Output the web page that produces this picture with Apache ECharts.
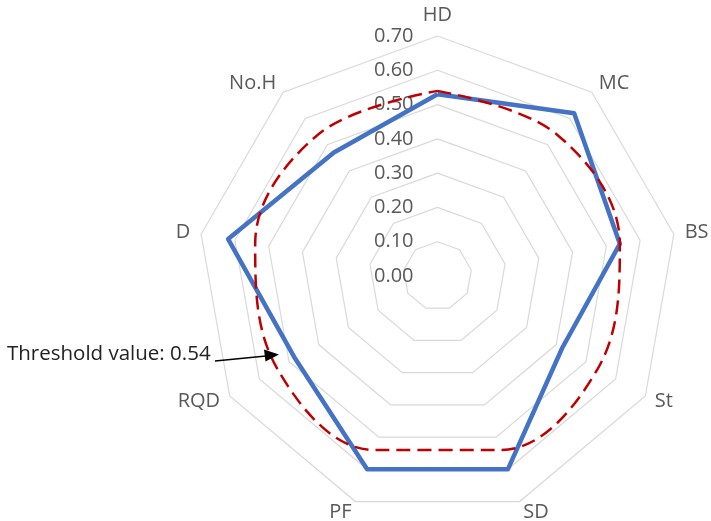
<!DOCTYPE html>
<html>
<head>
<meta charset="utf-8">
<script src="https://cdn.jsdelivr.net/npm/echarts@6/dist/echarts.min.js"></script>
<style>
html,body{margin:0;padding:0;background:#fff;}
#chart{width:711px;height:521px;}
</style>
</head>
<body>
<div id="chart"></div>
<script>
// ---- data ----
var categories = ['HD', 'MC', 'BS', 'St', 'SD', 'PF', 'RQD', 'D', 'No.H'];
var scoreValues = [0.53, 0.62, 0.54, 0.42, 0.60, 0.60, 0.48, 0.62, 0.47];
var thresholdValues = [0.54, 0.54, 0.54, 0.54, 0.54, 0.54, 0.54, 0.54, 0.54];
var tickLabels = ['0.00', '0.10', '0.20', '0.30', '0.40', '0.50', '0.60', '0.70'];
var axisMax = 0.7;

var N = categories.length;
var FONT = '"Open Sans", "DejaVu Sans", sans-serif';
var CX = 437.5, CY = 276, R = 240;

// ECharts radar lays indicators out counter-clockwise; reorder so the
// categories run clockwise from the top, as in the original.
var order = [0];
for (var k = N - 1; k >= 1; k--) order.push(k);
function reorder(arr) { return order.map(function (i) { return arr[i]; }); }

var chart = echarts.init(document.getElementById('chart'), null, {renderer: 'canvas'});

var thresholdData = thresholdValues.map(function (v, i) { return [v, i]; });
thresholdData.push([thresholdValues[0], N]);

var option = {
  animation: false,
  backgroundColor: '#ffffff',
  radar: {
    center: [CX, CY],
    radius: R,
    startAngle: 90,
    shape: 'polygon',
    splitNumber: tickLabels.length - 1,
    nameGap: 11,
    axisName: { color: '#595959', fontSize: 20, fontFamily: FONT },
    indicator: reorder(categories).map(function (c) { return { name: c, min: 0, max: axisMax }; }),
    axisLine: { show: false },
    axisTick: { show: false },
    axisLabel: { show: false },
    splitArea: { show: false },
    splitLine: { lineStyle: { color: '#d9d9d9', width: 1.2 } }
  },
  polar: { center: [CX, CY], radius: R },
  angleAxis: {
    type: 'value', min: 0, max: N, startAngle: 90, clockwise: true,
    show: false
  },
  radiusAxis: {
    type: 'value', min: 0, max: axisMax, interval: 0.1,
    axisLine: { show: false }, axisTick: { show: false }, splitLine: { show: false },
    axisLabel: {
      margin: 24, color: '#595959', fontSize: 20, fontFamily: FONT,
      formatter: function (v) { return tickLabels[Math.round(v * 10)]; }
    }
  },
  series: [
    {
      type: 'radar',
      radarIndex: 0,
      z: 3,
      symbol: 'none',
      lineStyle: { color: '#4472c4', width: 4.5 },
      data: [{ value: reorder(scoreValues), name: 'Score' }]
    },
    {
      type: 'line',
      coordinateSystem: 'polar',
      z: 4,
      symbol: 'none',
      smooth: 0.37,
      lineStyle: { color: '#c00000', width: 2.5, type: [14, 7] },
      data: thresholdData
    }
  ],
  graphic: [
    {
      type: 'text', left: 7, top: 344, z: 10,
      style: { text: 'Threshold value: ' + thresholdValues[0].toFixed(2), fill: '#222222', font: '20.5px ' + FONT }
    },
    {
      type: 'line', z: 10,
      shape: { x1: 215, y1: 361, x2: 266, y2: 356 },
      style: { stroke: '#000', lineWidth: 1.6 }
    },
    {
      type: 'polygon', z: 10,
      shape: { points: [[279, 354.5], [264, 349.5], [265.5, 361.5]] },
      style: { fill: '#000' }
    }
  ]
};
chart.setOption(option);
</script>
</body>
</html>
